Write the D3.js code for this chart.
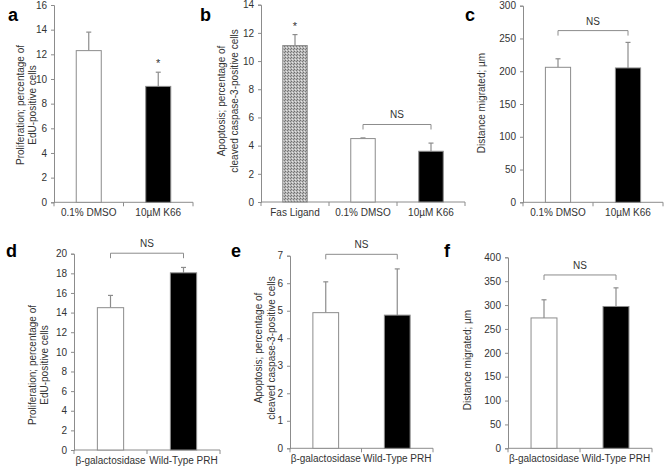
<!DOCTYPE html>
<html><head><meta charset="utf-8">
<script src="https://cdn.jsdelivr.net/npm/d3@7"></script>
<style>
body{margin:0;background:#fff;}
svg text{font-family:"Liberation Sans",Arial,sans-serif;}
</style></head>
<body><svg id="chart" width="664" height="468"></svg>
<script>
// ---------- data ----------
const catsA = ["0.1% DMSO", "10µM K66"];
const valsA = [12.3, 9.4];
const errsA = [1.5, 1.15];
const starsA = [false, true];

const catsB = ["Fas Ligand", "0.1% DMSO", "10µM K66"];
const valsB = [11.1, 4.5, 3.6];
const errsB = [0.78, 0.05, 0.58];
const starsB = [true, false, false];

const catsC = ["0.1% DMSO", "10µM K66"];
const valsC = [206, 205];
const errsC = [13, 39];

const catsD = ["β-galactosidase", "Wild-Type PRH"];
const valsD = [14.5, 18.05];
const errsD = [1.25, 0.55];

const catsE = ["β-galactosidase", "Wild-Type PRH"];
const valsE = [4.93, 4.84];
const errsE = [1.12, 1.68];

const catsF = ["β-galactosidase", "Wild-Type PRH"];
const valsF = [273, 297];
const errsF = [38, 39];

const yTicksA = [0, 2, 4, 6, 8, 10, 12, 14, 16];
const yTicksB = [0, 2, 4, 6, 8, 10, 12, 14];
const yTicksC = [0, 50, 100, 150, 200, 250, 300];
const yTicksD = [0, 2, 4, 6, 8, 10, 12, 14, 16, 18, 20];
const yTicksE = [0, 1, 2, 3, 4, 5, 6, 7];
const yTicksF = [0, 50, 100, 150, 200, 250, 300, 350, 400];

// NS brackets: [fromIndex, toIndex, level in data units]
const nsB = [1, 2, 5.5];
const nsC = [0, 1, 262];
const nsD = [0, 1, 20.05];
const nsE = [0, 1, 7.05];
const nsF = [0, 1, 363];

const titleA = ["Proliferation; percentage of", "EdU-positive cells"];
const titleB = ["Apoptosis; percentage of", "cleaved caspase-3-positive cells"];
const titleC = ["Distance migrated; µm"];

// ---------- drawing ----------
const svg = d3.select("#chart");
const defs = svg.append("defs");
const pat = defs.append("pattern").attr("id","stip").attr("width",3).attr("height",3)
  .attr("patternUnits","userSpaceOnUse");
pat.append("rect").attr("width",3).attr("height",3).attr("fill","#b8b8b8");
pat.append("rect").attr("width",1).attr("height",1).attr("fill","#6e6e6e");
pat.append("rect").attr("x",2).attr("y",1).attr("width",1).attr("height",1).attr("fill","#7a7a7a");
pat.append("rect").attr("x",1).attr("y",2).attr("width",1).attr("height",1).attr("fill","#e6e6e6");

const AX = "#8c8c8c";
const TXT = "#333";

const panels = [
  {label:"a", lx:8, ly:21, x0:54, x1:193, yTop:5, yBot:202.3, max:16, ticks:yTicksA,
   cats:catsA, vals:valsA, errs:errsA, stars:starsA, fills:["#fff","#000"], ns:null,
   title:titleA, tx:[20,32], ty:105},
  {label:"b", lx:200, ly:21, x0:261, x1:465, yTop:4.7, yBot:202, max:14, ticks:yTicksB,
   cats:catsB, vals:valsB, errs:errsB, stars:starsB, fills:["url(#stip)","#fff","#000"], ns:nsB,
   title:titleB, tx:[221,234], ty:101},
  {label:"c", lx:465, ly:21, x0:523, x1:663, yTop:5.7, yBot:202.3, max:300, ticks:yTicksC,
   cats:catsC, vals:valsC, errs:errsC, stars:null, fills:["#fff","#000"], ns:nsC,
   title:titleC, tx:[481], ty:103},
  {label:"d", lx:6, ly:257, x0:74, x1:220, yTop:253.7, yBot:450, max:20, ticks:yTicksD,
   cats:catsD, vals:valsD, errs:errsD, stars:null, fills:["#fff","#000"], ns:nsD,
   title:titleA, tx:[32,44], ty:365},
  {label:"e", lx:231, ly:257, x0:290, x1:433, yTop:255.7, yBot:448.3, max:7, ticks:yTicksE,
   cats:catsE, vals:valsE, errs:errsE, stars:null, fills:["#fff","#000"], ns:nsE,
   title:titleB, tx:[258,271], ty:348},
  {label:"f", lx:444, ly:257, x0:508, x1:652, yTop:257.3, yBot:448.3, max:400, ticks:yTicksF,
   cats:catsF, vals:valsF, errs:errsF, stars:null, fills:["#fff","#000"], ns:nsF,
   title:titleC, tx:[467], ty:360}
];

panels.forEach(p => {
  const g = svg.append("g");
  const x = d3.scaleBand().domain(p.cats).range([p.x0, p.x1]).padding(0);
  const y = d3.scaleLinear().domain([0, p.max]).range([p.yBot, p.yTop]);
  const bw = x.bandwidth() * 0.36;
  const cx = c => x(c) + x.bandwidth() / 2;

  // panel label
  g.append("text").attr("x", p.lx).attr("y", p.ly).text(p.label)
    .attr("font-size", 18).attr("font-weight", "bold").attr("fill", "#000");

  // y axis
  const ya = g.append("g").attr("transform", `translate(${p.x0},0)`)
    .call(d3.axisLeft(y).tickValues(p.ticks).tickSize(3).tickPadding(4).tickFormat(d3.format("d")));
  ya.select(".domain").attr("stroke", AX);
  ya.selectAll(".tick line").attr("stroke", AX);
  ya.selectAll(".tick text").attr("fill", TXT).attr("font-size", 10)
    .style("font-family", '"Liberation Sans",Arial,sans-serif');

  // x axis (ticks at band boundaries)
  const bounds = p.cats.map(c => x(c)).concat([p.x1]);
  g.append("line").attr("x1", p.x0).attr("x2", p.x1).attr("y1", p.yBot).attr("y2", p.yBot)
    .attr("stroke", AX);
  g.selectAll(".xb").data(bounds).enter().append("line")
    .attr("x1", d => d).attr("x2", d => d).attr("y1", p.yBot).attr("y2", p.yBot + 4)
    .attr("stroke", AX);
  g.selectAll(".xl").data(p.cats).enter().append("text")
    .attr("x", d => cx(d)).attr("y", p.yBot + 14).attr("text-anchor", "middle")
    .attr("font-size", 10).attr("fill", TXT).text(d => d);

  // error bars (upward)
  p.cats.forEach((c, i) => {
    const top = y(p.vals[i] + p.errs[i]);
    g.append("line").attr("x1", cx(c)).attr("x2", cx(c)).attr("y1", y(p.vals[i])).attr("y2", top)
      .attr("stroke", AX).attr("stroke-width", 1.2);
    g.append("line").attr("x1", cx(c) - 2.5).attr("x2", cx(c) + 2.5).attr("y1", top).attr("y2", top)
      .attr("stroke", AX).attr("stroke-width", 1.2);
  });

  // bars
  g.selectAll(".bar").data(p.cats).enter().append("rect")
    .attr("x", d => cx(d) - bw / 2).attr("width", bw)
    .attr("y", (d, i) => y(p.vals[i])).attr("height", (d, i) => p.yBot - y(p.vals[i]))
    .attr("fill", (d, i) => p.fills[i]).attr("stroke", AX).attr("stroke-width", 1);

  // stars
  if (p.stars) p.cats.forEach((c, i) => {
    if (!p.stars[i]) return;
    g.append("text").attr("x", cx(c)).attr("y", y(p.vals[i] + p.errs[i]) - 5)
      .attr("text-anchor", "middle").attr("font-size", 11).attr("fill", TXT).text("*");
  });

  // NS bracket
  if (p.ns) {
    const xa = cx(p.cats[p.ns[0]]), xb = cx(p.cats[p.ns[1]]), yl = y(p.ns[2]);
    g.append("path").attr("d", `M${xa},${yl + 5}V${yl}H${xb}V${yl + 5}`)
      .attr("fill", "none").attr("stroke", AX).attr("stroke-width", 1);
    g.append("text").attr("x", (xa + xb) / 2).attr("y", yl - 6).attr("text-anchor", "middle")
      .attr("font-size", 10).attr("fill", TXT).text("NS");
  }

  // y title
  p.title.forEach((t, k) => {
    g.append("text").attr("transform", `translate(${p.tx[k]},${p.ty}) rotate(-90)`)
      .attr("text-anchor", "middle").attr("dy", "0.35em")
      .attr("font-size", 10).attr("fill", TXT).text(t);
  });
});
</script></body></html>
